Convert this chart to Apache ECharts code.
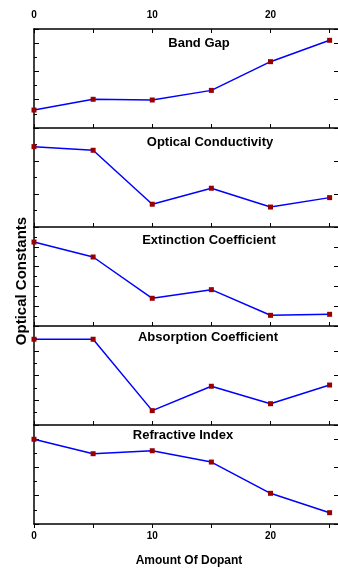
<!DOCTYPE html>
<html>
<head>
<meta charset="utf-8">
<script src="https://cdn.jsdelivr.net/npm/echarts@6/dist/echarts.min.js"></script>
<style>
html,body{margin:0;padding:0;background:#fff;}
#chart{width:338px;height:571px;}
</style>
</head>
<body>
<div id="chart"></div>
<script>
// Data (x = amount of dopant, y values in relative units)
const dopant = [0, 5, 10, 15, 20, 25];
const bandGap = [1.27, 2.03, 1.98, 2.66, 4.69, 6.2];
const opticalConductivity = [4.87, 4.65, 1.38, 2.35, 1.21, 1.78];
const extinctionCoefficient = [8.48, 6.97, 2.8, 3.67, 1.08, 1.18];
const absorptionCoefficient = [6.93, 6.93, 1.16, 3.13, 1.72, 3.23];
const refractiveIndex = [5.99, 4.97, 5.18, 4.38, 2.17, 0.8];
const panelTitles = ['Band Gap', 'Optical Conductivity', 'Extinction Coefficient', 'Absorption Coefficient', 'Refractive Index'];
const xTickLabels = [0, 10, 20];
const panelYMax = [7, 6, 10, 8, 7];

const seriesData = [bandGap, opticalConductivity, extinctionCoefficient, absorptionCoefficient, refractiveIndex];

// layout
const panelTop = [29, 128, 227, 326, 425];
const panelH = 99;
const gridLeft = 34, gridWidth = 306, xMax = 25.71;
const titlePos = [[199, 43], [210, 142], [209, 240], [208, 337], [183, 435]];
const fontFam = '"Liberation Sans", Arial, sans-serif';

const grids = [], xAxes = [], yAxes = [], series = [], graphics = [];
const labelFmt = v => xTickLabels.indexOf(v) >= 0 ? String(v) : '';

for (let i = 0; i < 5; i++) {
  grids.push({left: gridLeft, width: gridWidth, top: panelTop[i], height: panelH});
  // bottom x axis
  xAxes.push({
    type: 'value', gridIndex: i, position: 'bottom', min: 0, max: xMax, interval: 5,
    axisLine: {show: true, onZero: false, lineStyle: {color: '#000', width: 1.5}},
    axisTick: {show: true, inside: i < 4, length: 4, lineStyle: {color: '#000', width: 1}},
    axisLabel: {show: i === 4, formatter: labelFmt, color: '#000', fontWeight: 'bold', fontSize: 10, fontFamily: fontFam, margin: 7, showMaxLabel: false},
    splitLine: {show: false}
  });
  // top x axis (frame line)
  xAxes.push({
    type: 'value', gridIndex: i, position: 'top', min: 0, max: xMax, interval: 5,
    axisLine: {show: i === 0, onZero: false, lineStyle: {color: '#000', width: 1.5}},
    axisTick: {show: i === 0, inside: true, length: 4, lineStyle: {color: '#000', width: 1}},
    axisLabel: {show: i === 0, formatter: labelFmt, color: '#000', fontWeight: 'bold', fontSize: 10, fontFamily: fontFam, margin: 9, showMaxLabel: false},
    splitLine: {show: false}
  });
  // left y axis
  yAxes.push({
    type: 'value', gridIndex: i, position: 'left', min: 0, max: panelYMax[i], interval: 2,
    axisLine: {show: true, onZero: false, lineStyle: {color: '#000', width: 1.5}},
    axisTick: {show: true, inside: true, length: 5, lineStyle: {color: '#000', width: 1}},
    minorTick: {show: true, splitNumber: 2, length: 3, lineStyle: {color: '#000', width: 1}},
    axisLabel: {show: false},
    splitLine: {show: false}
  });
  // right y axis (frame edge lies just outside the window; only tick stubs show)
  yAxes.push({
    type: 'value', gridIndex: i, position: 'right', min: 0, max: panelYMax[i], interval: 2,
    axisLine: {show: false, onZero: false},
    axisTick: {show: true, inside: true, length: 4, lineStyle: {color: '#000', width: 1}},
    axisLabel: {show: false},
    splitLine: {show: false}
  });
  series.push({
    type: 'line', xAxisIndex: 2 * i, yAxisIndex: 2 * i,
    data: dopant.map((x, k) => [x, seriesData[i][k]]),
    lineStyle: {color: '#0000ff', width: 1.5},
    symbol: 'rect', symbolSize: 5,
    itemStyle: {color: '#990000'},
    z: 3, animation: false, clip: false
  });
  graphics.push({
    type: 'text', x: titlePos[i][0], y: titlePos[i][1], z: 10,
    style: {text: panelTitles[i], fill: '#000', font: 'bold 13px ' + fontFam, textAlign: 'center', textVerticalAlign: 'middle'}
  });
}

graphics.push({
  type: 'text', x: 22, y: 281, rotation: Math.PI / 2, z: 10,
  style: {text: 'Optical Constants', fill: '#000', font: 'bold 15px ' + fontFam, textAlign: 'center', textVerticalAlign: 'middle'}
});
graphics.push({
  type: 'text', x: 189, y: 561, z: 10,
  style: {text: 'Amount Of Dopant', fill: '#000', font: 'bold 12px ' + fontFam, textAlign: 'center', textVerticalAlign: 'middle'}
});

const chart = echarts.init(document.getElementById('chart'));
chart.setOption({
  animation: false,
  backgroundColor: '#fff',
  grid: grids,
  xAxis: xAxes,
  yAxis: yAxes,
  series: series,
  graphic: graphics
});
</script>
</body>
</html>
